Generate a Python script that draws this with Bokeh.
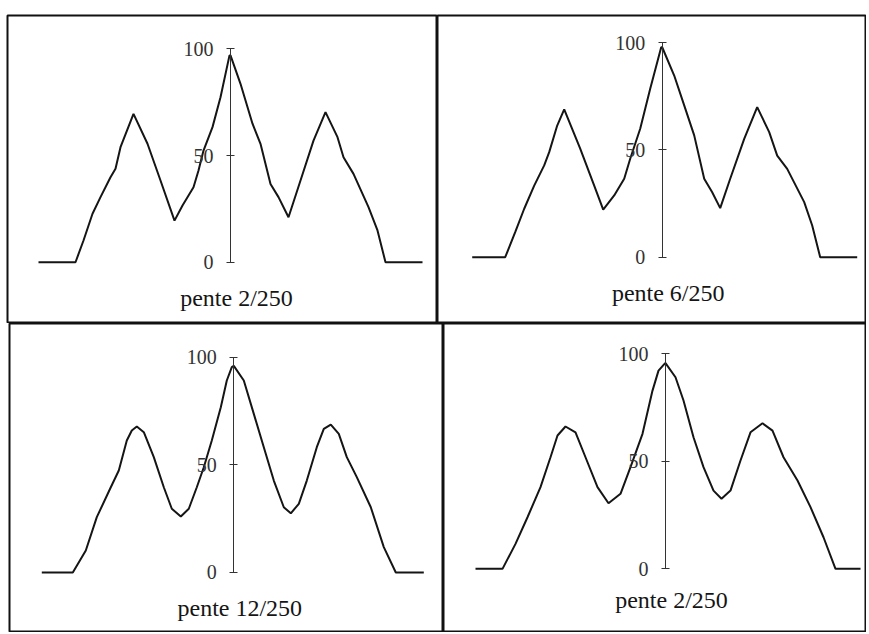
from bokeh.plotting import figure
from bokeh.models import LinearAxis, FixedTicker, Range1d, Label, Grid
from bokeh.layouts import column, row
from bokeh.embed import file_html
from bokeh.resources import INLINE

# ---- data (x relative to the central axis, y in %) ----
tl_x = [-192, -155, -147, -138, -130, -120, -115, -110, -97, -83, -70, -56, -48, -37, -32, -27, -18, -10, -1,
        0, 10, 22, 30, 40, 48, 58, 70, 83, 95, 107, 113, 123, 138, 147, 155, 192]
tl_y = [0, 0, 10.2, 22.7, 30.5, 39.8, 43.8, 53.9, 69.5, 55.5, 38.3, 19.5, 26.6, 35.1, 43, 52.3, 63.3, 77.3, 96.9,
        96.9, 83.6, 64.9, 55.5, 36.7, 30.5, 21.1, 38.3, 57, 70.3, 58.6, 49.2, 41.4, 25.8, 14.9, 0, 0]

tr_x = [-190, -157, -147, -138, -128, -118, -113, -105, -98, -82, -68, -59, -48, -38, -32, -22, -12, -1,
        0, 12, 22, 32, 42, 50, 58, 68, 82, 95, 107, 115, 125, 142, 150, 158, 195]
tr_y = [0, 0, 11.7, 22.6, 33.4, 42.8, 49, 61.4, 68.9, 50.6, 33.4, 22.2, 28.8, 36.6, 45.9, 59.9, 78.5, 97.9,
        97.9, 84.7, 70.8, 56.8, 36.6, 30.3, 22.9, 36.6, 55.2, 70, 58.3, 47.4, 41.2, 25.7, 14.8, 0, 0]

bl_x = [-192, -161, -148, -137, -123, -115, -107, -102, -97, -90, -80, -70, -62, -53, -45, -37, -30, -22, -13, -7, -2,
        0, 10, 20, 30, 40, 50, 57, 65, 73, 83, 90, 97, 105, 113, 123, 137, 150, 162, 190]
bl_y = [0, 0, 10.2, 25.7, 39.6, 47.4, 61.3, 66, 67.8, 65.2, 53.6, 39.6, 29.6, 26, 29.6, 39.6, 48.9, 61.3, 76.8, 89.2, 95.4,
        96, 89.2, 73.7, 58.2, 42.7, 30.3, 27.5, 31.9, 42.7, 58.2, 66.7, 68.7, 64.4, 53.6, 44.3, 30.3, 11.8, 0, 0]

br_x = [-190, -163, -150, -138, -125, -115, -108, -100, -90, -80, -68, -57, -45, -35, -23, -13, -7, -1,
        0, 10, 18, 28, 38, 48, 56, 65, 75, 85, 97, 107, 118, 132, 145, 158, 170, 195]
br_y = [0, 0, 11.6, 24, 38, 51.9, 62, 66.2, 63.5, 51.9, 38, 30.5, 34.9, 47.3, 62.8, 82.9, 92.2, 95.3,
        95.7, 89.1, 78.3, 61.2, 47.3, 36.4, 32.6, 36.4, 50.4, 63.5, 67.7, 64.3, 51.9, 41.1, 28.7, 14.7, 0, 0]

titles = ["pente 2/250", "pente 6/250", "pente 12/250", "pente 2/250"]
y_ticks = [0, 50, 100]

SERIF = "Liberation Serif"


def make_panel(x, y, title, w, h, xr, yr, left, top, title_y):
    p = figure(width=w, height=h, x_range=Range1d(*xr), y_range=Range1d(*yr),
               output_backend="svg", toolbar_location=None,
               x_axis_location=None, y_axis_location=None,
               min_border_left=left, min_border_right=0,
               min_border_top=top, min_border_bottom=0)
    for r in list(p.center):
        if isinstance(r, Grid):
            r.visible = False
    p.outline_line_color = "#111111"
    p.outline_line_width = 2
    p.background_fill_color = "white"
    p.border_fill_color = "white"

    ax = LinearAxis(fixed_location=0, ticker=FixedTicker(ticks=y_ticks), bounds=(0, 100))
    ax.major_tick_in = 4
    ax.major_tick_out = 4
    ax.minor_tick_in = 0
    ax.minor_tick_out = 0
    ax.axis_line_color = "#333333"
    ax.axis_line_width = 1
    ax.major_tick_line_color = "#333333"
    ax.major_label_text_font = SERIF
    ax.major_label_text_font_size = "20px"
    ax.major_label_text_color = "#333333"
    ax.major_label_standoff = 13
    p.add_layout(ax, "left")

    p.line(x, y, line_color="#151515", line_width=2)

    p.add_layout(Label(x=6, y=title_y, text=title, text_align="center", text_baseline="middle",
                       text_font=SERIF, text_font_size="24px", text_color="#151515"))
    return p


p1 = make_panel(tl_x, tl_y, titles[0], 437, 323, (-223, 207), (-28.7, 115.6), 7, 15, -16.8)
p2 = make_panel(tr_x, tr_y, titles[1], 429, 323, (-224.7, 204.3), (-30.9, 112.7), 0, 15, -16.8)
p3 = make_panel(bl_x, bl_y, titles[2], 443, 309, (-224.3, 209.7), (-27.9, 115.7), 9, 0, -16.3)
p4 = make_panel(br_x, br_y, titles[3], 423, 309, (-222, 201), (-29.6, 114.1), 0, 0, -14.7)

layout = column(row(p1, p2, spacing=0), row(p3, p4, spacing=0), spacing=0)

open("out.html", "w").write(file_html(layout, INLINE))
